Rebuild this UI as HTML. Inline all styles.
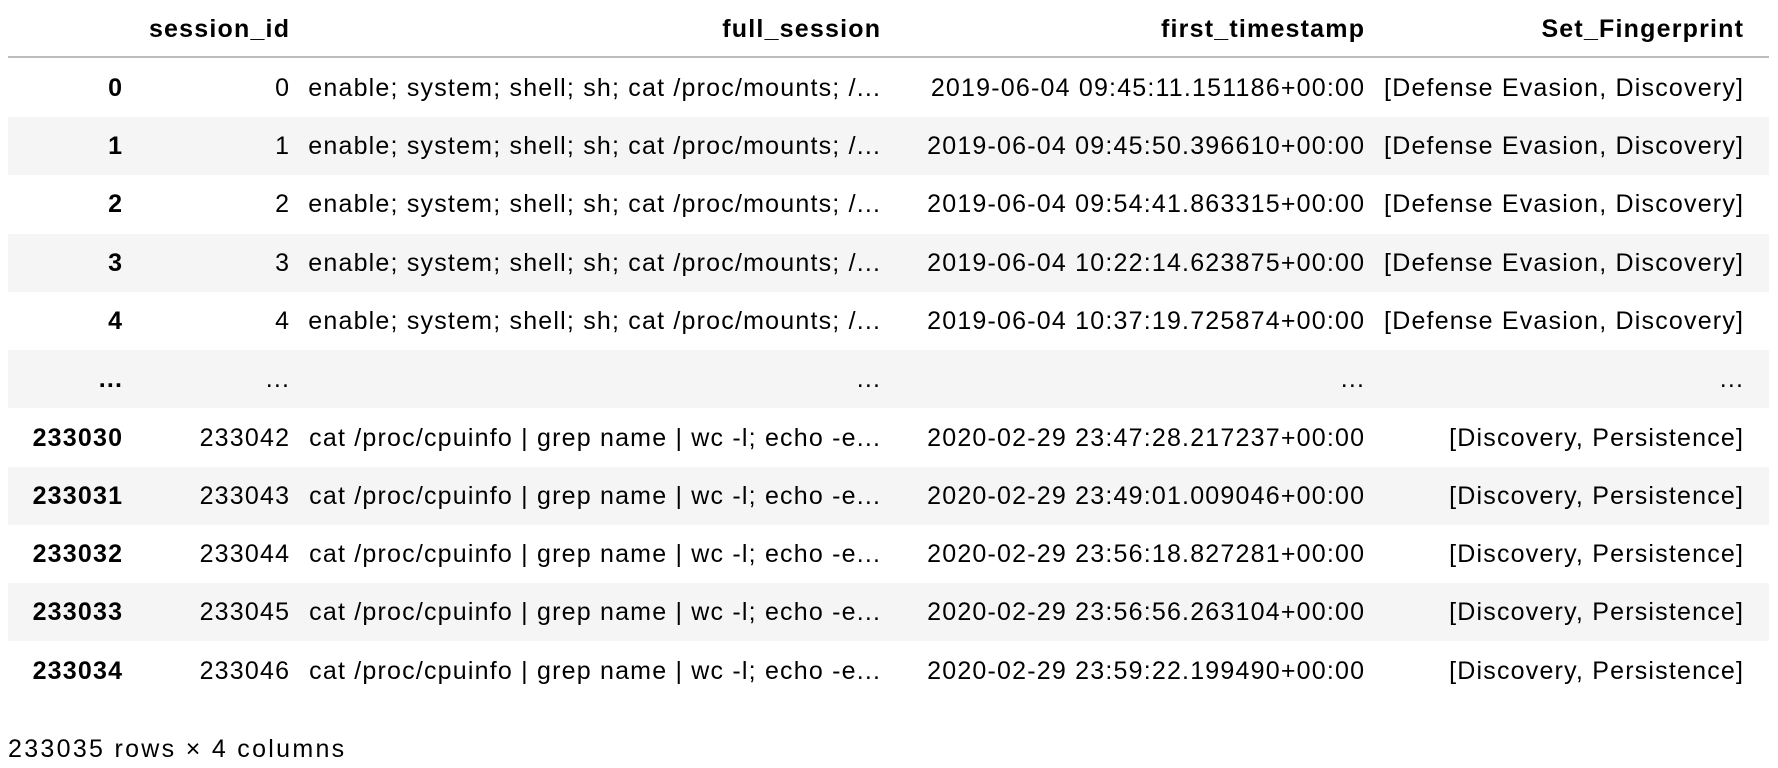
<!DOCTYPE html>
<html><head><meta charset="utf-8"><style>
body{margin:0;width:1778px;height:768px;background:#fff;font-family:"Liberation Sans",Arial,sans-serif;color:#000;overflow:hidden;position:relative}
.r{position:absolute;left:8px;width:1761px;height:58px;line-height:58px;font-size:25px;letter-spacing:1.2px}
.r span{position:absolute;white-space:nowrap;margin-right:-1.2px}
.g{background:#f5f5f5}
.h{font-weight:bold}
.a{right:1647px;font-weight:bold}.b{right:1480px}.c{right:889px}.d{right:405px}.e{right:26px}
.line{position:absolute;left:8px;width:1761px;top:56px;height:2px;background:#bdbdbd}
.f{position:absolute;left:8px;top:732px;font-size:25px;letter-spacing:2.3px;line-height:34px}
</style></head><body>
<div class="r h" style="top:0"><span class="b">session_id</span><span class="c">full_session</span><span class="d">first_timestamp</span><span class="e">Set_Fingerprint</span></div>
<div class="line"></div>
<div class="r" style="top:59px"><span class="a">0</span><span class="b">0</span><span class="c">enable; system; shell; sh; cat /proc/mounts; /...</span><span class="d">2019-06-04 09:45:11.151186+00:00</span><span class="e">[Defense Evasion, Discovery]</span></div>
<div class="r g" style="top:117px"><span class="a">1</span><span class="b">1</span><span class="c">enable; system; shell; sh; cat /proc/mounts; /...</span><span class="d">2019-06-04 09:45:50.396610+00:00</span><span class="e">[Defense Evasion, Discovery]</span></div>
<div class="r" style="top:175px"><span class="a">2</span><span class="b">2</span><span class="c">enable; system; shell; sh; cat /proc/mounts; /...</span><span class="d">2019-06-04 09:54:41.863315+00:00</span><span class="e">[Defense Evasion, Discovery]</span></div>
<div class="r g" style="top:234px"><span class="a">3</span><span class="b">3</span><span class="c">enable; system; shell; sh; cat /proc/mounts; /...</span><span class="d">2019-06-04 10:22:14.623875+00:00</span><span class="e">[Defense Evasion, Discovery]</span></div>
<div class="r" style="top:292px"><span class="a">4</span><span class="b">4</span><span class="c">enable; system; shell; sh; cat /proc/mounts; /...</span><span class="d">2019-06-04 10:37:19.725874+00:00</span><span class="e">[Defense Evasion, Discovery]</span></div>
<div class="r g" style="top:350px"><span class="a">...</span><span class="b">...</span><span class="c">...</span><span class="d">...</span><span class="e">...</span></div>
<div class="r" style="top:409px"><span class="a">233030</span><span class="b">233042</span><span class="c">cat /proc/cpuinfo | grep name | wc -l; echo -e...</span><span class="d">2020-02-29 23:47:28.217237+00:00</span><span class="e">[Discovery, Persistence]</span></div>
<div class="r g" style="top:467px"><span class="a">233031</span><span class="b">233043</span><span class="c">cat /proc/cpuinfo | grep name | wc -l; echo -e...</span><span class="d">2020-02-29 23:49:01.009046+00:00</span><span class="e">[Discovery, Persistence]</span></div>
<div class="r" style="top:525px"><span class="a">233032</span><span class="b">233044</span><span class="c">cat /proc/cpuinfo | grep name | wc -l; echo -e...</span><span class="d">2020-02-29 23:56:18.827281+00:00</span><span class="e">[Discovery, Persistence]</span></div>
<div class="r g" style="top:583px"><span class="a">233033</span><span class="b">233045</span><span class="c">cat /proc/cpuinfo | grep name | wc -l; echo -e...</span><span class="d">2020-02-29 23:56:56.263104+00:00</span><span class="e">[Discovery, Persistence]</span></div>
<div class="r" style="top:642px"><span class="a">233034</span><span class="b">233046</span><span class="c">cat /proc/cpuinfo | grep name | wc -l; echo -e...</span><span class="d">2020-02-29 23:59:22.199490+00:00</span><span class="e">[Discovery, Persistence]</span></div>
<div class="f">233035 rows × 4 columns</div>
</body></html>
